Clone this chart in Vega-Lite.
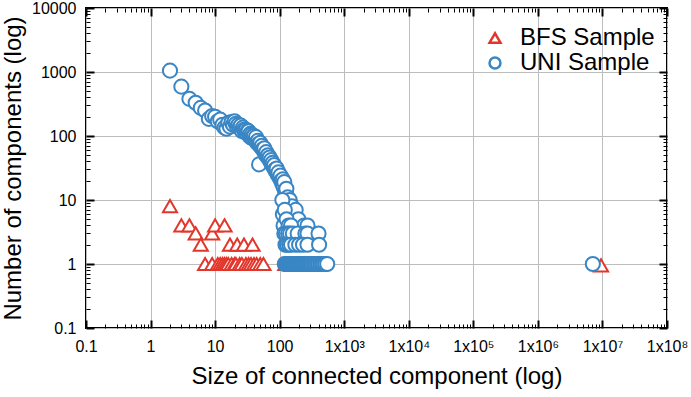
{
  "$schema": "https://vega.github.io/schema/vega-lite/v6.json",
  "width": 581,
  "height": 320,
  "autosize": {"type": "none"},
  "padding": {"left": 86, "top": 8, "right": 24, "bottom": 69},
  "background": "white",
  "config": {
    "view": {"stroke": "black", "strokeWidth": 2},
    "font": "Liberation Sans",
    "axis": {"labelFont": "Liberation Sans", "titleFont": "Liberation Sans", "labelColor": "black", "titleColor": "black", "titleFontWeight": "normal"},
    "legend": {"labelFont": "Liberation Sans", "labelColor": "black", "padding": 0}
  },
  "data": {
    "values": [
      {"series": "BFS Sample", "size": 2, "count": 8},
      {"series": "BFS Sample", "size": 3, "count": 4},
      {"series": "BFS Sample", "size": 4, "count": 4},
      {"series": "BFS Sample", "size": 5, "count": 3},
      {"series": "BFS Sample", "size": 6, "count": 2},
      {"series": "BFS Sample", "size": 7, "count": 1},
      {"series": "BFS Sample", "size": 9, "count": 3},
      {"series": "BFS Sample", "size": 9, "count": 1},
      {"series": "BFS Sample", "size": 10, "count": 4},
      {"series": "BFS Sample", "size": 11, "count": 1},
      {"series": "BFS Sample", "size": 12, "count": 1},
      {"series": "BFS Sample", "size": 13, "count": 1},
      {"series": "BFS Sample", "size": 14, "count": 4},
      {"series": "BFS Sample", "size": 14, "count": 1},
      {"series": "BFS Sample", "size": 15, "count": 1},
      {"series": "BFS Sample", "size": 16, "count": 1},
      {"series": "BFS Sample", "size": 17, "count": 2},
      {"series": "BFS Sample", "size": 18, "count": 1},
      {"series": "BFS Sample", "size": 20, "count": 1},
      {"series": "BFS Sample", "size": 21, "count": 1},
      {"series": "BFS Sample", "size": 22, "count": 2},
      {"series": "BFS Sample", "size": 24, "count": 1},
      {"series": "BFS Sample", "size": 26, "count": 1},
      {"series": "BFS Sample", "size": 28, "count": 2},
      {"series": "BFS Sample", "size": 30, "count": 1},
      {"series": "BFS Sample", "size": 33, "count": 1},
      {"series": "BFS Sample", "size": 36, "count": 1},
      {"series": "BFS Sample", "size": 38, "count": 2},
      {"series": "BFS Sample", "size": 40, "count": 1},
      {"series": "BFS Sample", "size": 44, "count": 1},
      {"series": "BFS Sample", "size": 50, "count": 1},
      {"series": "BFS Sample", "size": 56, "count": 1},
      {"series": "BFS Sample", "size": 122, "count": 1},
      {"series": "BFS Sample", "size": 9500000, "count": 0.95},
      {"series": "UNI Sample", "size": 2, "count": 1050},
      {"series": "UNI Sample", "size": 3, "count": 590},
      {"series": "UNI Sample", "size": 4, "count": 380},
      {"series": "UNI Sample", "size": 5, "count": 330},
      {"series": "UNI Sample", "size": 6, "count": 275},
      {"series": "UNI Sample", "size": 7, "count": 250},
      {"series": "UNI Sample", "size": 8, "count": 185},
      {"series": "UNI Sample", "size": 9, "count": 205},
      {"series": "UNI Sample", "size": 10, "count": 200},
      {"series": "UNI Sample", "size": 11, "count": 170},
      {"series": "UNI Sample", "size": 12, "count": 180},
      {"series": "UNI Sample", "size": 13, "count": 150},
      {"series": "UNI Sample", "size": 14, "count": 135},
      {"series": "UNI Sample", "size": 15, "count": 130},
      {"series": "UNI Sample", "size": 16, "count": 160},
      {"series": "UNI Sample", "size": 17, "count": 140},
      {"series": "UNI Sample", "size": 18, "count": 165},
      {"series": "UNI Sample", "size": 19, "count": 150},
      {"series": "UNI Sample", "size": 20, "count": 170},
      {"series": "UNI Sample", "size": 21, "count": 155},
      {"series": "UNI Sample", "size": 22, "count": 140},
      {"series": "UNI Sample", "size": 23, "count": 150},
      {"series": "UNI Sample", "size": 24, "count": 135},
      {"series": "UNI Sample", "size": 25, "count": 145},
      {"series": "UNI Sample", "size": 26, "count": 120},
      {"series": "UNI Sample", "size": 27, "count": 135},
      {"series": "UNI Sample", "size": 28, "count": 125},
      {"series": "UNI Sample", "size": 29, "count": 115},
      {"series": "UNI Sample", "size": 30, "count": 125},
      {"series": "UNI Sample", "size": 31, "count": 110},
      {"series": "UNI Sample", "size": 32, "count": 120},
      {"series": "UNI Sample", "size": 33, "count": 118},
      {"series": "UNI Sample", "size": 34, "count": 100},
      {"series": "UNI Sample", "size": 35, "count": 108},
      {"series": "UNI Sample", "size": 36, "count": 95},
      {"series": "UNI Sample", "size": 37, "count": 104},
      {"series": "UNI Sample", "size": 38, "count": 92},
      {"series": "UNI Sample", "size": 39, "count": 98},
      {"series": "UNI Sample", "size": 40, "count": 100},
      {"series": "UNI Sample", "size": 42, "count": 88},
      {"series": "UNI Sample", "size": 43, "count": 96},
      {"series": "UNI Sample", "size": 44, "count": 80},
      {"series": "UNI Sample", "size": 46, "count": 84},
      {"series": "UNI Sample", "size": 47, "count": 75},
      {"series": "UNI Sample", "size": 48, "count": 36},
      {"series": "UNI Sample", "size": 49, "count": 72},
      {"series": "UNI Sample", "size": 50, "count": 78},
      {"series": "UNI Sample", "size": 52, "count": 66},
      {"series": "UNI Sample", "size": 53, "count": 70},
      {"series": "UNI Sample", "size": 55, "count": 62},
      {"series": "UNI Sample", "size": 57, "count": 58},
      {"series": "UNI Sample", "size": 58, "count": 64},
      {"series": "UNI Sample", "size": 60, "count": 52},
      {"series": "UNI Sample", "size": 62, "count": 56},
      {"series": "UNI Sample", "size": 64, "count": 48},
      {"series": "UNI Sample", "size": 66, "count": 50},
      {"series": "UNI Sample", "size": 68, "count": 44},
      {"series": "UNI Sample", "size": 70, "count": 46},
      {"series": "UNI Sample", "size": 72, "count": 40},
      {"series": "UNI Sample", "size": 74, "count": 42},
      {"series": "UNI Sample", "size": 76, "count": 36},
      {"series": "UNI Sample", "size": 78, "count": 38},
      {"series": "UNI Sample", "size": 80, "count": 33},
      {"series": "UNI Sample", "size": 82, "count": 35},
      {"series": "UNI Sample", "size": 85, "count": 30},
      {"series": "UNI Sample", "size": 88, "count": 28},
      {"series": "UNI Sample", "size": 90, "count": 31},
      {"series": "UNI Sample", "size": 93, "count": 25},
      {"series": "UNI Sample", "size": 96, "count": 27},
      {"series": "UNI Sample", "size": 100, "count": 22},
      {"series": "UNI Sample", "size": 103, "count": 24},
      {"series": "UNI Sample", "size": 106, "count": 20},
      {"series": "UNI Sample", "size": 110, "count": 18},
      {"series": "UNI Sample", "size": 112, "count": 21},
      {"series": "UNI Sample", "size": 115, "count": 16},
      {"series": "UNI Sample", "size": 118, "count": 19},
      {"series": "UNI Sample", "size": 121, "count": 14},
      {"series": "UNI Sample", "size": 124, "count": 12},
      {"series": "UNI Sample", "size": 127, "count": 15},
      {"series": "UNI Sample", "size": 130, "count": 10},
      {"series": "UNI Sample", "size": 133, "count": 11},
      {"series": "UNI Sample", "size": 136, "count": 9},
      {"series": "UNI Sample", "size": 140, "count": 8},
      {"series": "UNI Sample", "size": 143, "count": 10},
      {"series": "UNI Sample", "size": 147, "count": 7},
      {"series": "UNI Sample", "size": 150, "count": 6},
      {"series": "UNI Sample", "size": 155, "count": 8},
      {"series": "UNI Sample", "size": 160, "count": 5},
      {"series": "UNI Sample", "size": 165, "count": 6},
      {"series": "UNI Sample", "size": 170, "count": 4},
      {"series": "UNI Sample", "size": 177, "count": 7},
      {"series": "UNI Sample", "size": 185, "count": 4},
      {"series": "UNI Sample", "size": 195, "count": 5},
      {"series": "UNI Sample", "size": 210, "count": 3},
      {"series": "UNI Sample", "size": 240, "count": 4},
      {"series": "UNI Sample", "size": 270, "count": 4},
      {"series": "UNI Sample", "size": 110, "count": 10},
      {"series": "UNI Sample", "size": 112, "count": 6},
      {"series": "UNI Sample", "size": 115, "count": 4},
      {"series": "UNI Sample", "size": 118, "count": 3},
      {"series": "UNI Sample", "size": 120, "count": 7},
      {"series": "UNI Sample", "size": 128, "count": 5},
      {"series": "UNI Sample", "size": 138, "count": 4},
      {"series": "UNI Sample", "size": 150, "count": 4},
      {"series": "UNI Sample", "size": 125, "count": 3},
      {"series": "UNI Sample", "size": 135, "count": 3},
      {"series": "UNI Sample", "size": 145, "count": 3},
      {"series": "UNI Sample", "size": 160, "count": 3},
      {"series": "UNI Sample", "size": 190, "count": 3},
      {"series": "UNI Sample", "size": 250, "count": 3},
      {"series": "UNI Sample", "size": 270, "count": 3},
      {"series": "UNI Sample", "size": 400, "count": 3},
      {"series": "UNI Sample", "size": 123, "count": 2},
      {"series": "UNI Sample", "size": 130, "count": 2},
      {"series": "UNI Sample", "size": 140, "count": 2},
      {"series": "UNI Sample", "size": 150, "count": 2},
      {"series": "UNI Sample", "size": 175, "count": 2},
      {"series": "UNI Sample", "size": 200, "count": 2},
      {"series": "UNI Sample", "size": 230, "count": 2},
      {"series": "UNI Sample", "size": 270, "count": 2},
      {"series": "UNI Sample", "size": 408, "count": 2},
      {"series": "UNI Sample", "size": 120, "count": 1},
      {"series": "UNI Sample", "size": 124, "count": 1},
      {"series": "UNI Sample", "size": 128, "count": 1},
      {"series": "UNI Sample", "size": 132, "count": 1},
      {"series": "UNI Sample", "size": 136, "count": 1},
      {"series": "UNI Sample", "size": 140, "count": 1},
      {"series": "UNI Sample", "size": 145, "count": 1},
      {"series": "UNI Sample", "size": 150, "count": 1},
      {"series": "UNI Sample", "size": 155, "count": 1},
      {"series": "UNI Sample", "size": 160, "count": 1},
      {"series": "UNI Sample", "size": 166, "count": 1},
      {"series": "UNI Sample", "size": 172, "count": 1},
      {"series": "UNI Sample", "size": 178, "count": 1},
      {"series": "UNI Sample", "size": 185, "count": 1},
      {"series": "UNI Sample", "size": 192, "count": 1},
      {"series": "UNI Sample", "size": 200, "count": 1},
      {"series": "UNI Sample", "size": 210, "count": 1},
      {"series": "UNI Sample", "size": 220, "count": 1},
      {"series": "UNI Sample", "size": 230, "count": 1},
      {"series": "UNI Sample", "size": 240, "count": 1},
      {"series": "UNI Sample", "size": 250, "count": 1},
      {"series": "UNI Sample", "size": 262, "count": 1},
      {"series": "UNI Sample", "size": 275, "count": 1},
      {"series": "UNI Sample", "size": 290, "count": 1},
      {"series": "UNI Sample", "size": 305, "count": 1},
      {"series": "UNI Sample", "size": 320, "count": 1},
      {"series": "UNI Sample", "size": 340, "count": 1},
      {"series": "UNI Sample", "size": 360, "count": 1},
      {"series": "UNI Sample", "size": 380, "count": 1},
      {"series": "UNI Sample", "size": 400, "count": 1},
      {"series": "UNI Sample", "size": 425, "count": 1},
      {"series": "UNI Sample", "size": 450, "count": 1},
      {"series": "UNI Sample", "size": 480, "count": 1},
      {"series": "UNI Sample", "size": 510, "count": 1},
      {"series": "UNI Sample", "size": 545, "count": 1},
      {"series": "UNI Sample", "size": 7100000, "count": 1}
    ]
  },
  "resolve": {"axis": {"x": "independent", "y": "independent"}},
  "layer": [
    {
      "mark": {"type": "point", "opacity": 0},
      "encoding": {
        "x": {"field": "size", "type": "quantitative", "scale": {"type": "log", "domain": [0.1, 100000000], "nice": false},
          "axis": {"orient": "bottom", "values": [0.2,0.3,0.4,0.5,0.6,0.7,0.8,0.9,2,3,4,5,6,7,8,9,20,30,40,50,60,70,80,90,200,300,400,500,600,700,800,900,2000,3000,4000,5000,6000,7000,8000,9000,20000,30000,40000,50000,60000,70000,80000,90000,200000,300000,400000,500000,600000,700000,800000,900000,2000000,3000000,4000000,5000000,6000000,7000000,8000000,9000000,20000000,30000000,40000000,50000000,60000000,70000000,80000000,90000000],
            "labels": false, "grid": false, "domain": false, "title": null, "tickSize": -4, "tickWidth": 1, "tickColor": "black"}},
        "y": {"field": "count", "type": "quantitative", "scale": {"type": "log", "domain": [0.1, 10000], "nice": false},
          "axis": {"orient": "left", "values": [0.2,0.3,0.4,0.5,0.6,0.7,0.8,0.9,2,3,4,5,6,7,8,9,20,30,40,50,60,70,80,90,200,300,400,500,600,700,800,900,2000,3000,4000,5000,6000,7000,8000,9000],
            "labels": false, "grid": false, "domain": false, "title": null, "tickSize": -4, "tickWidth": 1, "tickColor": "black"}}
      }
    },
    {
      "mark": {"type": "point", "opacity": 0},
      "encoding": {
        "x": {"field": "size", "type": "quantitative", "scale": {"type": "log", "domain": [0.1, 100000000], "nice": false},
          "axis": {"orient": "top", "values": [0.1,1,10,100,1000,10000,100000,1000000,10000000,100000000], "labels": false, "grid": false, "domain": false, "title": null, "tickSize": -8, "tickWidth": 2, "tickColor": "black"}},
        "y": {"field": "count", "type": "quantitative", "scale": {"type": "log", "domain": [0.1, 10000], "nice": false},
          "axis": {"orient": "right", "values": [0.1,1,10,100,1000,10000], "labels": false, "grid": false, "domain": false, "title": null, "tickSize": -8, "tickWidth": 2, "tickColor": "black"}}
      }
    },
    {
      "mark": {"type": "point", "opacity": 0},
      "encoding": {
        "x": {"field": "size", "type": "quantitative", "scale": {"type": "log", "domain": [0.1, 100000000], "nice": false},
          "axis": {"orient": "top", "values": [0.2,0.3,0.4,0.5,0.6,0.7,0.8,0.9,2,3,4,5,6,7,8,9,20,30,40,50,60,70,80,90,200,300,400,500,600,700,800,900,2000,3000,4000,5000,6000,7000,8000,9000,20000,30000,40000,50000,60000,70000,80000,90000,200000,300000,400000,500000,600000,700000,800000,900000,2000000,3000000,4000000,5000000,6000000,7000000,8000000,9000000,20000000,30000000,40000000,50000000,60000000,70000000,80000000,90000000],
            "labels": false, "grid": false, "domain": false, "title": null, "tickSize": -4, "tickWidth": 1, "tickColor": "black"}},
        "y": {"field": "count", "type": "quantitative", "scale": {"type": "log", "domain": [0.1, 10000], "nice": false},
          "axis": {"orient": "right", "values": [0.2,0.3,0.4,0.5,0.6,0.7,0.8,0.9,2,3,4,5,6,7,8,9,20,30,40,50,60,70,80,90,200,300,400,500,600,700,800,900,2000,3000,4000,5000,6000,7000,8000,9000],
            "labels": false, "grid": false, "domain": false, "title": null, "tickSize": -4, "tickWidth": 1, "tickColor": "black"}}
      }
    },
    {
      "mark": {"type": "point", "fill": "white", "strokeWidth": 2, "size": 200, "opacity": 1, "fillOpacity": 1},
      "encoding": {
        "x": {"field": "size", "type": "quantitative", "scale": {"type": "log", "domain": [0.1, 100000000], "nice": false},
          "axis": {"orient": "bottom", "values": [0.1,1,10,100,1000,10000,100000,1000000,10000000,100000000],
            "labelExpr": "datum.value < 0.5 ? '0.1' : datum.value < 1000 ? format(datum.value, 'd') : '1x10' + ['³','⁴','⁵','⁶','⁷','⁸'][round(log(datum.value)/LN10) - 3]",
            "labelFontSize": 16, "labelPadding": 18, "labelFlush": false, "labelOverlap": false,
            "grid": true, "gridColor": "#bdbdbd", "gridWidth": 1, "gridOpacity": 1, "domain": false,
            "tickSize": -8, "tickWidth": 2, "tickColor": "black",
            "title": "Size of connected component (log)", "titleFontSize": 24, "titlePadding": 10}},
        "y": {"field": "count", "type": "quantitative", "scale": {"type": "log", "domain": [0.1, 10000], "nice": false},
          "axis": {"orient": "left", "values": [0.1,1,10,100,1000,10000],
            "labelExpr": "datum.value < 0.5 ? '0.1' : format(datum.value, 'd')",
            "labelFontSize": 16, "labelPadding": 18, "labelFlush": false, "labelOverlap": false,
            "grid": true, "gridColor": "#bdbdbd", "gridWidth": 1, "gridOpacity": 1, "domain": false,
            "tickSize": -8, "tickWidth": 2, "tickColor": "black",
            "title": "Number of components (log)", "titleFontSize": 24, "titlePadding": 6}},
        "stroke": {"field": "series", "type": "nominal",
          "scale": {"domain": ["BFS Sample", "UNI Sample"], "range": ["#e3362b", "#3a86c5"]},
          "legend": {"orient": "none", "legendX": 397, "legendY": 18, "title": null, "labelFontSize": 24, "symbolSize": 120, "symbolStrokeWidth": 2.5, "labelOffset": 13, "rowPadding": 1}},
        "shape": {"field": "series", "type": "nominal",
          "scale": {"domain": ["BFS Sample", "UNI Sample"], "range": ["triangle-up", "circle"]},
          "legend": {"orient": "none", "legendX": 397, "legendY": 18, "title": null, "labelFontSize": 24, "symbolSize": 120, "symbolStrokeWidth": 2.5, "labelOffset": 13, "rowPadding": 1}}
      }
    }
  ]
}
